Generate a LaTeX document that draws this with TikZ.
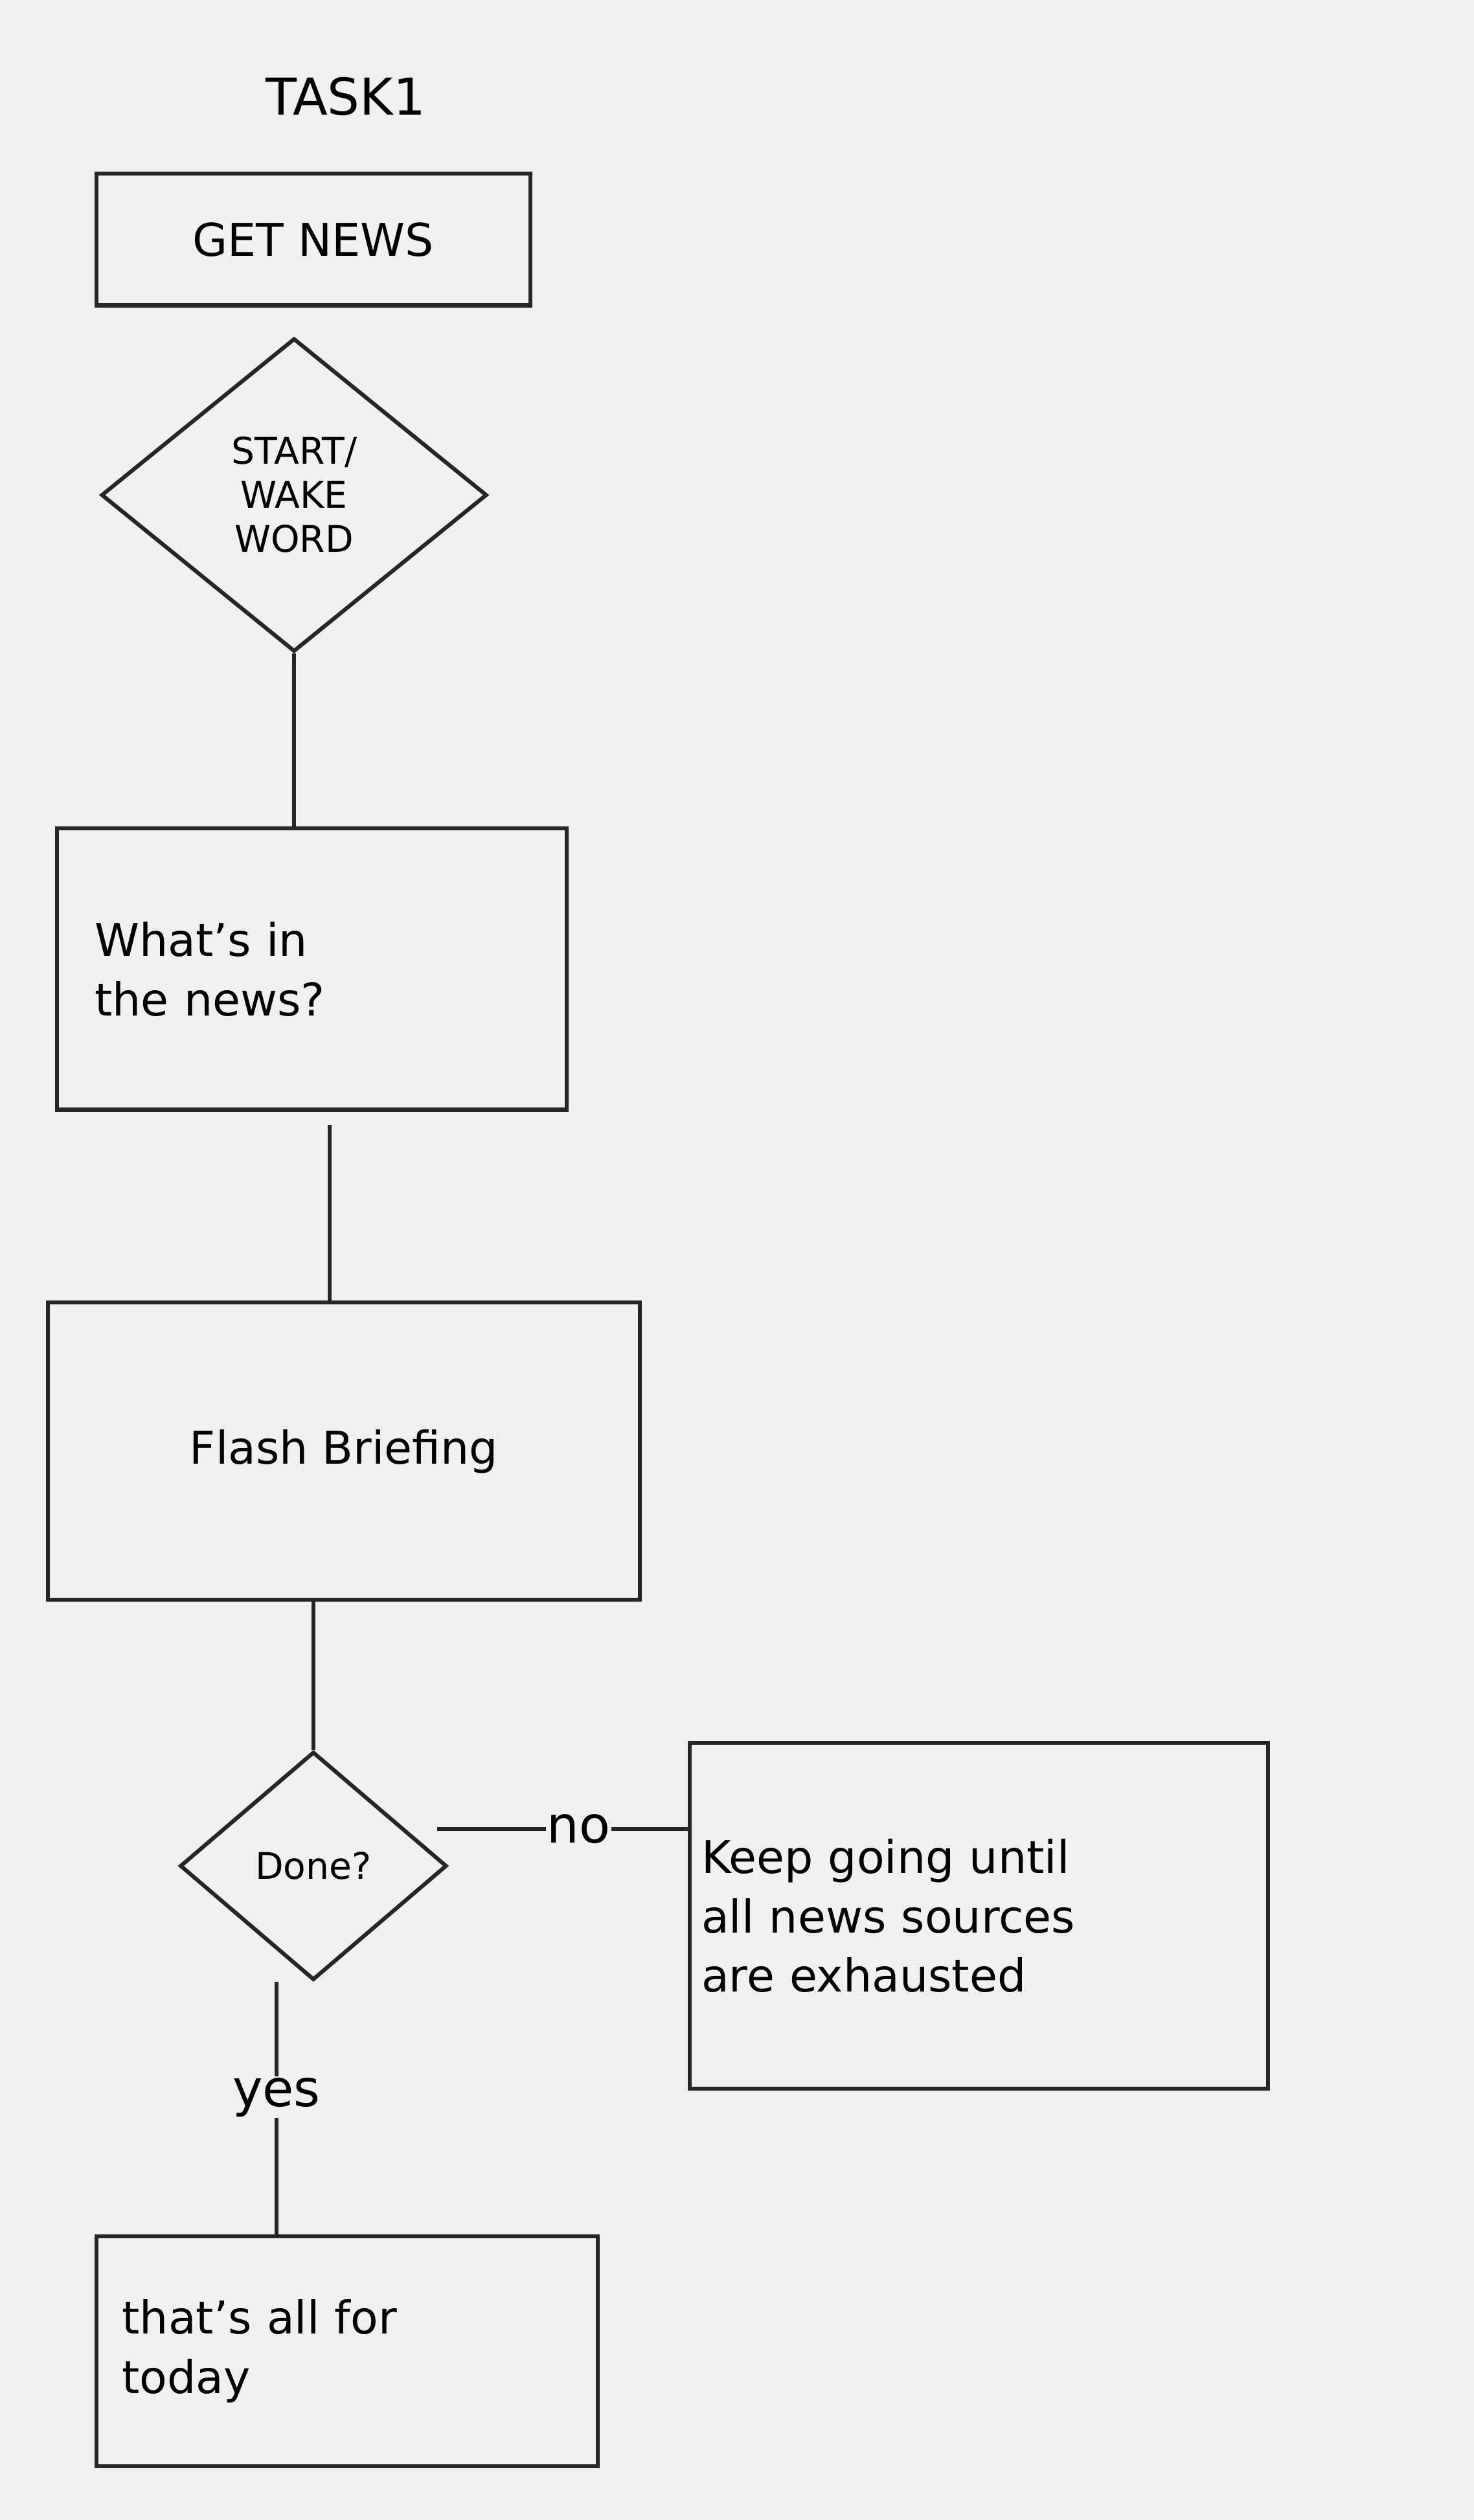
\documentclass[tikz,border=0pt]{standalone}
\usepackage{fontspec}
\setmainfont{DejaVu Sans}
\usetikzlibrary{shapes.geometric}
\begin{document}
\begin{tikzpicture}[x=0.1cm,y=-0.1cm,
  ink/.style={draw=black!85,line width=7pt},
  box/.style={ink,rectangle,inner sep=0pt,font=\fontsize{80}{105}\selectfont,align=left},
  dia/.style={ink,diamond,inner sep=0pt,font=\fontsize{65}{78}\selectfont,align=center},
  lbl/.style={font=\fontsize{90}{100}\selectfont,inner sep=2pt}]
\fill[black!6] (0,0) rectangle (917,1568);
\useasboundingbox (0,0) rectangle (917,1568);
\node[lbl] (task) at (215,60) {TASK1};
\node[box,minimum width=270*0.1cm,minimum height=82*0.1cm] (get) at (195,149) {GET NEWS};
\node[dia,minimum width=240*0.1cm,minimum height=195*0.1cm] (start) at (183,308) {START/\\WAKE\\WORD};
\node[box,minimum width=317*0.1cm,minimum height=175*0.1cm,text width=270*0.1cm] (what) at (194,603) {What's in\\the news?};
\node[box,minimum width=368*0.1cm,minimum height=185*0.1cm] (flash) at (214,903) {Flash Briefing};
\node[dia,minimum width=166*0.1cm,minimum height=142*0.1cm] (done) at (195,1161) {Done?};
\node[box,minimum width=360*0.1cm,minimum height=215*0.1cm,text width=345*0.1cm] (keep) at (609,1192) {Keep going until\\all news sources\\are exhausted};
\node[lbl] (no) at (360,1138) {no};
\node[lbl] (yes) at (172,1305) {yes};
\node[box,minimum width=312*0.1cm,minimum height=143*0.1cm,text width=280*0.1cm] (all) at (216,1463) {that's all for\\today};
\draw[ink] (start.south) -- (start.south |- what.north);
\draw[ink] (205,700) coordinate (w1) -- (flash.north -| w1);
\draw[ink] (flash.south -| done.north) -- (done.north);
\draw[ink] (no.west -| 272,0) -- (no.west);
\draw[ink] (no.east) -- (keep.west |- no.east);
\draw[ink] (done.south -| yes.north) -- (yes.north);
\draw[ink] (yes.south) -- (all.north -| yes.south);
\end{tikzpicture}
\end{document}
